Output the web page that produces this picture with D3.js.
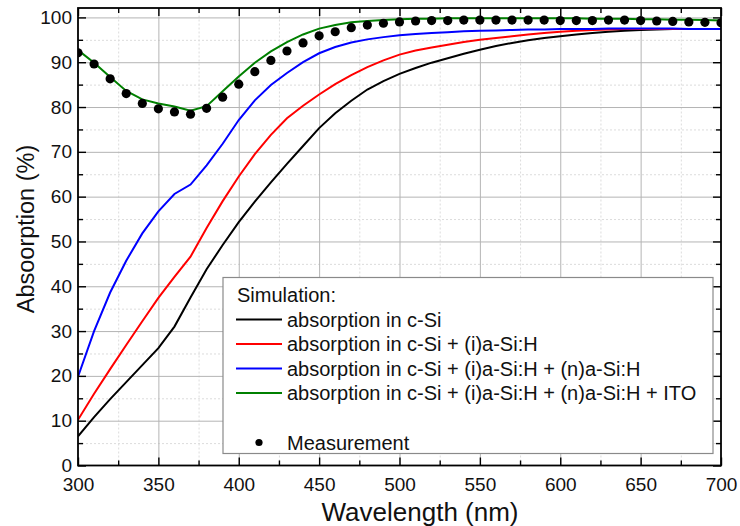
<!DOCTYPE html>
<html>
<head>
<meta charset="utf-8">
<script src="https://cdn.jsdelivr.net/npm/d3@7"></script>
<style>
body { margin: 0; background: #fff; }
text { font-family: Arial, "Liberation Sans", sans-serif; fill: #111; }
.grid-major line { stroke: #b4b4b4; stroke-width: 1; }
.grid-minor line { stroke: #dcdcdc; stroke-width: 1; stroke-dasharray: 2,2; }
.grid-major path, .grid-minor path { display: none; }
.ax path { display: none; }
.ax line { stroke: #000; stroke-width: 1.4; }
</style>
</head>
<body>
<div id="gr"></div>
<script>
// wavelength in nm
var wavelength = [300, 310, 320, 330, 340, 350, 360, 370, 380, 390, 400, 410, 420, 430, 440, 450, 460, 470, 480, 490, 500,
  510, 520, 530, 540, 550, 560, 570, 580, 590, 600, 610, 620, 630, 640, 650, 660, 670, 680, 690, 700];

// simulated absorption (%)
var absCSi = [6.5, 10.8, 14.8, 18.6, 22.4, 26.2, 31.0, 37.5, 43.8, 49.2, 54.3, 58.9, 63.2, 67.3, 71.3, 75.3, 78.6, 81.4, 83.9, 85.8, 87.4,
  88.7, 89.9, 90.9, 91.9, 92.8, 93.6, 94.3, 94.9, 95.4, 95.8, 96.2, 96.5, 96.8, 97.0, 97.2, 97.3, 97.4, 97.4, 97.4, 97.4];
var absISi = [10.2, 16.0, 21.5, 26.9, 32.2, 37.4, 42.1, 46.6, 53.0, 59.0, 64.5, 69.5, 73.8, 77.5, 80.3, 82.8, 85.1, 87.1, 88.9, 90.4, 91.7,
  92.6, 93.3, 93.9, 94.5, 95.0, 95.4, 95.8, 96.2, 96.5, 96.8, 97.0, 97.2, 97.3, 97.4, 97.4, 97.4, 97.4, 97.4, 97.4, 97.4];
var absNSi = [19.8, 30.0, 38.6, 45.7, 51.8, 56.7, 60.6, 62.7, 67.0, 71.8, 77.1, 81.5, 84.9, 87.6, 90.0, 92.0, 93.4, 94.4, 95.1, 95.6, 96.0,
  96.3, 96.5, 96.7, 96.9, 97.0, 97.1, 97.2, 97.3, 97.3, 97.4, 97.4, 97.4, 97.5, 97.5, 97.5, 97.5, 97.5, 97.4, 97.4, 97.4];
var absITO = [92.7, 89.9, 86.7, 83.6, 81.7, 80.8, 80.1, 79.2, 80.2, 83.5, 86.8, 89.9, 92.4, 94.5, 96.2, 97.5, 98.3, 98.9, 99.2, 99.4, 99.6,
  99.7, 99.7, 99.8, 99.8, 99.8, 99.8, 99.8, 99.8, 99.8, 99.8, 99.8, 99.7, 99.7, 99.7, 99.6, 99.6, 99.5, 99.5, 99.4, 99.3];

// measured absorption (%)
var absMeas = [92.1, 89.6, 86.3, 83.0, 80.8, 79.6, 78.9, 78.4, 79.7, 82.2, 85.1, 87.9, 90.4, 92.5, 94.3, 95.9, 96.8, 97.7, 98.3, 98.7, 99.0,
  99.2, 99.3, 99.3, 99.4, 99.4, 99.4, 99.4, 99.4, 99.4, 99.3, 99.3, 99.3, 99.4, 99.4, 99.3, 99.2, 99.1, 99.0, 98.9, 98.8];

var seriesNames = ["absorption in c-Si",
  "absorption in c-Si + (i)a-Si:H",
  "absorption in c-Si + (i)a-Si:H + (n)a-Si:H",
  "absorption in c-Si + (i)a-Si:H + (n)a-Si:H + ITO"];
var seriesColors = ["#000000", "#ff0000", "#0000ff", "#008000"];
var seriesValues = [absCSi, absISi, absNSi, absITO];

var xMajor = [300, 350, 400, 450, 500, 550, 600, 650, 700];
var xMinor = [325, 375, 425, 475, 525, 575, 625, 675];
var yMajor = [0, 10, 20, 30, 40, 50, 60, 70, 80, 90, 100];
var yMinor = [5, 15, 25, 35, 45, 55, 65, 75, 85, 95];

var margin = { left: 78, top: 8 };
var width = 643, height = 457.5;

var svg = d3.select("#gr").append("svg")
  .attr("width", 740)
  .attr("height", 526);

svg.append("rect").attr("width", 740).attr("height", 526).attr("fill", "#fff");

var g = svg.append("g")
  .attr("transform", "translate(" + margin.left + "," + margin.top + ")");

var x = d3.scaleLinear().domain([300, 700]).range([0, width]);
var y = d3.scaleLinear().domain([0, 102.1]).range([height, 0]);

// grid
g.append("g").attr("class", "grid-minor")
  .attr("transform", "translate(0," + height + ")")
  .call(d3.axisBottom(x).tickValues(xMinor).tickSize(-height).tickFormat(""));
g.append("g").attr("class", "grid-minor")
  .call(d3.axisLeft(y).tickValues(yMinor).tickSize(-width).tickFormat(""));
g.append("g").attr("class", "grid-major")
  .attr("transform", "translate(0," + height + ")")
  .call(d3.axisBottom(x).tickValues(xMajor.slice(1, -1)).tickSize(-height).tickFormat(""));
g.append("g").attr("class", "grid-major")
  .call(d3.axisLeft(y).tickValues(yMajor.slice(1)).tickSize(-width).tickFormat(""));

g.append("clipPath").attr("id", "clip")
  .append("rect").attr("width", width).attr("height", height);

var plot = g.append("g").attr("clip-path", "url(#clip)");

var line = d3.line()
  .x(function (d) { return x(d[0]); })
  .y(function (d) { return y(d[1]); });

seriesValues.forEach(function (vals, i) {
  plot.append("path")
    .datum(wavelength.map(function (w, j) { return [w, vals[j]]; }))
    .attr("fill", "none")
    .attr("stroke", seriesColors[i])
    .attr("stroke-width", 2)
    .attr("d", line);
});

plot.selectAll("circle.meas")
  .data(wavelength.map(function (w, j) { return [w, absMeas[j]]; }))
  .enter().append("circle")
  .attr("class", "meas")
  .attr("cx", function (d) { return x(d[0]); })
  .attr("cy", function (d) { return y(d[1]); })
  .attr("r", 4.6)
  .attr("fill", "#000");

// axes, ticks pointing inward on all four sides
function tickAxis(axisFn, scale, vals, size, tr, labels, pad) {
  var a = axisFn(scale).tickValues(vals).tickSizeInner(-size).tickSizeOuter(0);
  if (labels) a.tickPadding(pad); else a.tickFormat("");
  var s = g.append("g").attr("class", "ax");
  if (tr) s.attr("transform", tr);
  s.call(a);
  return s;
}
var xb = tickAxis(d3.axisBottom, x, xMajor, 8, "translate(0," + height + ")", true, 12.5);
tickAxis(d3.axisBottom, x, xMinor, 5, "translate(0," + height + ")", false);
tickAxis(d3.axisTop, x, xMajor, 8, null, false);
tickAxis(d3.axisTop, x, xMinor, 5, null, false);
var yl = tickAxis(d3.axisLeft, y, yMajor, 8, null, true, 6);
tickAxis(d3.axisLeft, y, yMinor, 5, null, false);
tickAxis(d3.axisRight, y, yMajor, 8, "translate(" + width + ",0)", false);
tickAxis(d3.axisRight, y, yMinor, 5, "translate(" + width + ",0)", false);

xb.selectAll("text").style("font-size", "19px").attr("fill", "#111");
yl.selectAll("text").style("font-size", "19px").attr("fill", "#111");

// frame
g.append("rect")
  .attr("width", width)
  .attr("height", height)
  .attr("fill", "none")
  .attr("stroke", "#000")
  .attr("stroke-width", 1.8);

// axis titles
svg.append("text")
  .attr("x", 420)
  .attr("y", 521)
  .attr("text-anchor", "middle")
  .style("font-size", "26px")
  .text("Wavelength (nm)");

svg.append("text")
  .attr("transform", "translate(34,229) rotate(-90)")
  .attr("text-anchor", "middle")
  .style("font-size", "23.5px")
  .text("Absoorption (%)");

// legend
var leg = svg.append("g");
leg.append("rect")
  .attr("x", 223).attr("y", 277.5)
  .attr("width", 490).attr("height", 176)
  .attr("fill", "#fff")
  .attr("stroke", "#8a8a8a")
  .attr("stroke-width", 1.2);

leg.append("text")
  .attr("x", 237).attr("y", 302)
  .style("font-size", "20px")
  .text("Simulation:");

var rowY = [319.5, 344, 368.5, 393];
seriesNames.forEach(function (name, i) {
  leg.append("line")
    .attr("x1", 236).attr("x2", 282)
    .attr("y1", rowY[i]).attr("y2", rowY[i])
    .attr("stroke", seriesColors[i])
    .attr("stroke-width", 2);
  leg.append("text")
    .attr("x", 287).attr("y", rowY[i] + 7)
    .style("font-size", "20px")
    .text(name);
});

leg.append("circle")
  .attr("cx", 259).attr("cy", 442.5)
  .attr("r", 3.6)
  .attr("fill", "#000");
leg.append("text")
  .attr("x", 287).attr("y", 449.5)
  .style("font-size", "20px")
  .text("Measurement");
</script>
</body>
</html>
